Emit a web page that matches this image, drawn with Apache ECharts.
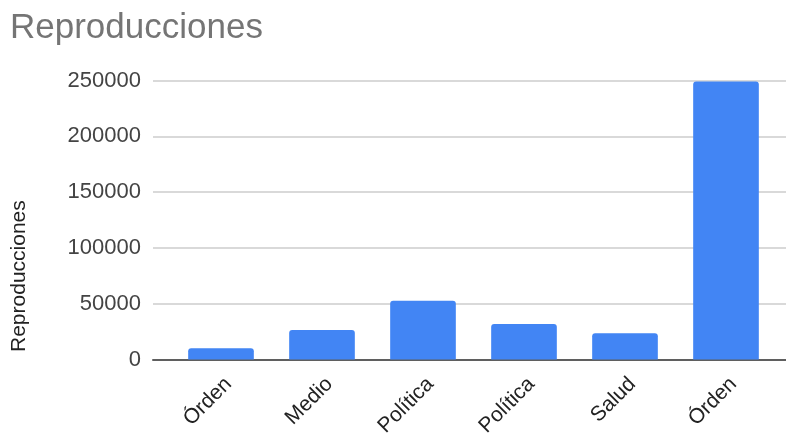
<!DOCTYPE html>
<html>
<head>
<meta charset="utf-8">
<script src="https://cdn.jsdelivr.net/npm/echarts@6/dist/echarts.min.js"></script>
<style>
  html, body { margin: 0; padding: 0; background: #fff; }
  #chart { width: 786px; height: 434px; }
</style>
</head>
<body>
<div id="chart"></div>
<script>
// Views per video topic
const categories = ['Órden', 'Medio', 'Política', 'Política', 'Salud', 'Órden'];
const views = [10000, 26400, 52700, 31800, 23500, 249000];
const yTicks = [0, 50000, 100000, 150000, 200000, 250000];
const axisTitle = 'Reproducciones';

const FONT = '"Liberation Sans", Arial, sans-serif';
const yMin = yTicks[0];
const yMax = yTicks[yTicks.length - 1];
const yStep = yTicks[1] - yTicks[0];

const chart = echarts.init(document.getElementById('chart'), null, { renderer: 'canvas' });

chart.setOption({
  animation: false,
  backgroundColor: '#ffffff',
  title: {
    text: 'Reproducciones',
    left: 5,
    top: 6,
    textStyle: { fontFamily: FONT, fontSize: 35, fontWeight: 'normal', color: '#757575' }
  },
  graphic: [
    {
      // vertical axis title, reading bottom to top
      type: 'text',
      x: 19.5, y: 352,
      rotation: Math.PI / 2,
      style: {
        text: axisTitle, fontFamily: FONT, fontSize: 21, fill: '#222222',
        align: 'left', verticalAlign: 'middle'
      }
    }
  ],
  grid: [
    // full-width frame holding the gridlines and value labels
    { left: 153, right: 0, top: 80.5, bottom: 74.5, containLabel: false, outerBoundsMode: 'none' },
    // bar area
    { left: 170.5, right: 9.5, top: 80.5, bottom: 74.5, containLabel: false, outerBoundsMode: 'none' }
  ],
  xAxis: [
    {
      gridIndex: 0, type: 'category', data: categories,
      axisLine: { show: true, lineStyle: { color: '#5f5f5f', width: 2 } },
      axisTick: { show: false }, axisLabel: { show: false }, splitLine: { show: false }
    },
    {
      gridIndex: 1, type: 'category', data: categories,
      boundaryGap: true,
      axisLine: { show: false }, axisTick: { show: false },
      axisLabel: {
        rotate: 45, margin: 14, interval: 0, verticalAlign: 'top',
        fontFamily: FONT, fontSize: 21, color: '#222222'
      }
    }
  ],
  yAxis: [
    {
      gridIndex: 0, type: 'value', min: yMin, max: yMax, interval: yStep,
      axisLine: { show: false }, axisTick: { show: false },
      axisLabel: {
        margin: 12, fontFamily: FONT, fontSize: 22, color: '#444444',
        formatter: (v) => String(v)
      },
      splitLine: { show: true, lineStyle: { color: '#cccccc', width: 1.5 } }
    },
    {
      gridIndex: 1, type: 'value', min: yMin, max: yMax, interval: yStep,
      axisLine: { show: false }, axisTick: { show: false },
      axisLabel: { show: false }, splitLine: { show: false }
    }
  ],
  series: [
    {
      type: 'bar',
      xAxisIndex: 1, yAxisIndex: 1,
      data: views,
      barCategoryGap: '35%',
      itemStyle: { color: '#4285f4', borderRadius: [3, 3, 0, 0] }
    }
  ]
});
</script>
</body>
</html>
